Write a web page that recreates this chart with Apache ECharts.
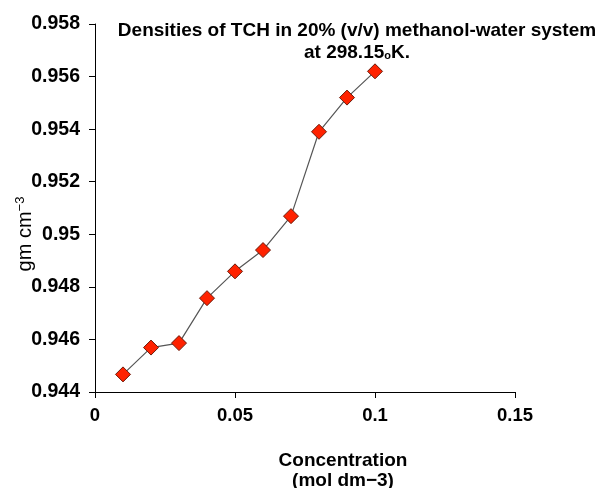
<!DOCTYPE html>
<html>
<head>
<meta charset="utf-8">
<script src="https://cdn.jsdelivr.net/npm/echarts@6/dist/echarts.min.js"></script>
<style>html,body{margin:0;padding:0;background:#fff;}#c{width:600px;height:488px;}</style>
</head>
<body>
<div id="c"></div>
<script>
const concentration = [0.01, 0.02, 0.03, 0.04, 0.05, 0.06, 0.07, 0.08, 0.09, 0.10];
const density = [0.94467, 0.94569, 0.94586, 0.94757, 0.94859, 0.94940, 0.95069, 0.95390, 0.95520, 0.95620];
const xTicks = [0, 0.05, 0.1, 0.15];
const yTicks = [0.944, 0.946, 0.948, 0.95, 0.952, 0.954, 0.956, 0.958];
const yAxisTitle = 'gm cm{s|\u22123}';

const chart = echarts.init(document.getElementById('c'), null, {renderer: 'canvas'});
const font = 'Liberation Sans, Arial, sans-serif';
chart.setOption({
  animation: false,
  backgroundColor: '#fff',
  title: {
    text: 'Densities of TCH in 20% (v/v) methanol-water system\nat 298.15{o|o}K.',
    left: 352, top: 15, textAlign: 'center',
    textStyle: {
      fontFamily: font, fontSize: 19, fontWeight: 'bold', color: '#000', lineHeight: 22,
      rich: { o: { fontFamily: font, fontSize: 11, fontWeight: 'bold', color: '#000', padding: [6, 0, 0, 0] } }
    }
  },
  graphic: [{
    type: 'text', x: 25, y: 234, rotation: Math.PI / 2,
    style: {
      text: yAxisTitle, fontFamily: font, fontSize: 20, fill: '#000',
      align: 'center', verticalAlign: 'middle',
      rich: { s: { fontFamily: font, fontSize: 13, fill: '#000', padding: [0, 0, 10, 0] } }
    }
  }],
  grid: { left: 95, right: 85, top: 24, bottom: 96, containLabel: false, outerBoundsMode: 'none' },
  xAxis: {
    type: 'value', min: xTicks[0], max: xTicks[xTicks.length - 1], interval: 0.05,
    name: 'Concentration\n(mol dm\u22123)', nameLocation: 'middle', nameGap: 59,
    nameTextStyle: { fontFamily: font, fontSize: 19, fontWeight: 'bold', color: '#000', lineHeight: 20,
      padding: [0, 0, 0, 76] },
    axisLine: { onZero: false, lineStyle: { color: '#000', width: 1 } },
    axisTick: { show: true, inside: false, length: 6, lineStyle: { color: '#000' } },
    axisLabel: { fontFamily: font, fontSize: 18.5, fontWeight: 'bold', color: '#000', margin: 14,
      formatter: v => String(+v.toFixed(2)) },
    splitLine: { show: false }
  },
  yAxis: {
    type: 'value', min: yTicks[0], max: yTicks[yTicks.length - 1], interval: 0.002,
    axisLine: { show: true, lineStyle: { color: '#000', width: 1 } },
    axisTick: { show: true, inside: false, length: 6, lineStyle: { color: '#000' } },
    axisLabel: { fontFamily: font, fontSize: 19.5, fontWeight: 'bold', color: '#000', margin: 15,
      formatter: v => String(+v.toFixed(3)) },
    splitLine: { show: false }
  },
  series: [{
    type: 'line',
    data: concentration.map((c, i) => [c, density[i]]),
    symbol: 'diamond', symbolSize: 15,
    lineStyle: { color: '#555', width: 1.2 },
    itemStyle: { color: '#ff2200', borderColor: '#6b1a0a', borderWidth: 1 }
  }]
});
</script>
</body>
</html>
